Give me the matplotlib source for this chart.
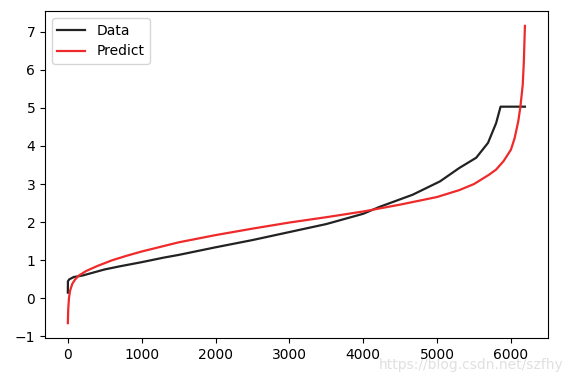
import matplotlib.pyplot as plt
import numpy as np

# sorted observed values (black) and sorted predictions (red)
data_x = [0, 1, 20, 80, 200, 350, 500, 700, 1000, 1300, 1500, 2000, 2500, 3000, 3500,
          4000, 4220, 4670, 5040, 5300, 5530, 5690, 5800, 5860, 6190]
data_y = [0.15, 0.45, 0.5, 0.56, 0.6, 0.68, 0.76, 0.84, 0.95, 1.07, 1.14, 1.34, 1.53, 1.74, 1.95,
          2.22, 2.4, 2.72, 3.07, 3.42, 3.69, 4.08, 4.6, 5.03, 5.03]

pred_x = [0, 5, 15, 30, 60, 100, 150, 250, 400, 600, 800, 1000, 1500, 2000, 2500, 3000, 3500,
          4000, 4500, 5000, 5300, 5500, 5700, 5800, 5900, 6000, 6050, 6100, 6130, 6160, 6175, 6190]
pred_y = [-0.65, -0.3, 0.0, 0.2, 0.38, 0.5, 0.6, 0.72, 0.85, 1.0, 1.12, 1.23, 1.47, 1.66, 1.83, 1.99, 2.13,
          2.28, 2.46, 2.66, 2.84, 3.0, 3.24, 3.38, 3.6, 3.9, 4.2, 4.65, 5.05, 5.6, 6.2, 7.15]

fig = plt.figure(figsize=(5.73, 3.8), dpi=100)
ax = fig.add_axes([0.0785, 0.1105, 0.8775, 0.8605])
ax.plot(data_x, data_y, color='#222222', linewidth=1.6, label='Data')
ax.plot(pred_x, pred_y, color='#ee2a2a', linewidth=1.6, label='Predict')
ax.set_xticks([0, 1000, 2000, 3000, 4000, 5000, 6000])
ax.set_yticks([-1, 0, 1, 2, 3, 4, 5, 6, 7])
ax.tick_params(labelsize=10)
ax.legend(loc='upper left', fontsize=10)

fig.text(0.983, 0.022, 'https://blog.csdn.net/szfhy', ha='right', va='bottom',
         fontsize=10, color='#e0e0e0')

fig.savefig('out.png')
